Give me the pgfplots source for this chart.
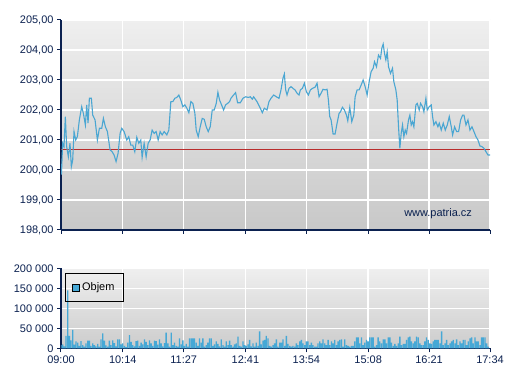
\documentclass[border=0pt]{standalone}
\usepackage{fontspec}
\setmainfont{Liberation Sans}
\usepackage{pgfplots}
\pgfplotsset{compat=1.18}
\definecolor{navy}{RGB}{11,33,80}
\definecolor{lineblue}{RGB}{74,166,210}
\definecolor{barblue}{RGB}{70,168,214}
\definecolor{refred}{RGB}{185,45,45}
\begin{document}
\begin{tikzpicture}
\path[use as bounding box] (0,0) rectangle (507bp,380bp);
\pgfplotsset{
 panel/.style={scale only axis, width=429bp, xmin=0, xmax=514,
  axis lines*=left, axis line style={-, navy, line width=1.2bp},
  tick style={navy, line width=1bp}, tick align=outside, major tick length=4bp,
  grid=major, grid style={white, line width=1.3bp},
  xtick={0,74,147,221,294,368,441,514},
  ticklabel style={font=\fontsize{11}{13}\selectfont, text=navy},
  /pgf/number format/assume math mode=true,
  anchor=south west}
}
\begin{axis}[panel, at={(61bp,150bp)}, height=210bp,
  ymin=198, ymax=205, ytick={198,199,200,201,202,203,204,205},
  yticklabels={{198,00},{199,00},{200,00},{201,00},{202,00},{203,00},{204,00},{205,00}},
  xticklabels={},
  axis background/.style={top color={rgb,255:red,239;green,239;blue,239}, bottom color={rgb,255:red,200;green,200;blue,200}}]
\addplot[refred, line width=0.8bp] coordinates {(0,200.7) (514,200.7)};
\addplot[lineblue, line width=1.1bp] coordinates {
(0,200.2)(0.5,199.85)(1,200.2)(2,200.89)(3.6,200.78)(5.2,201.78)(6.8,200.78)(8.8,200.44)(10.8,200.89)(12.4,200.11)(14,200.33)(15.6,201.28)(17.6,201.0)(19.6,201.11)(22,201.67)(24.8,202.11)(26.8,201.89)(29.2,201.5)(30.8,202.17)(32.4,201.56)(34,202.39)(36.4,202.39)(38,201.83)(40.8,201.67)(43.6,201.0)(46,201.39)(48.8,201.39)(50.8,201.72)(53.2,201.44)(55.6,201.28)(58.8,200.67)(61.2,200.61)(63.6,200.5)(66,200.28)(68.4,200.56)(70.8,201.22)(72.8,201.39)(75.6,201.28)(78.8,201.0)(81.2,201.11)(83.6,200.83)(86,200.83)(88.4,200.61)(90.8,201.09)(93.2,200.89)(95.6,201.0)(97.2,200.42)(99.6,200.89)(102,200.44)(104.4,200.89)(106.8,201.0)(109.2,201.33)(111.6,201.22)(114,201.28)(116.4,201.0)(118.8,201.28)(121.2,201.17)(123.6,201.28)(126.8,201.17)(129.2,201.33)(131.6,202.28)(134,202.28)(136.4,202.39)(138.8,202.42)(141.2,202.5)(143.6,202.33)(146,202.11)(148.4,202.17)(150.8,202.06)(153.2,201.91)(155.6,202.28)(158,202.22)(160.4,201.89)(162,201.33)(164.4,201.11)(166.8,201.44)(169.2,201.72)(171.6,201.69)(174,201.44)(176.4,201.28)(178.8,201.44)(181.2,202.0)(183.6,202.0)(186,202.22)(188,202.59)(190,202.33)(192.4,202.17)(194.8,202.0)(197.2,202.17)(199.6,202.22)(202,202.28)(203.6,202.39)(206.8,202.5)(209.2,202.58)(211.6,202.24)(214.8,202.24)(218,202.39)(221.2,202.44)(224.4,202.42)(226.8,202.44)(229.2,202.36)(230.8,202.44)(234.8,202.28)(238.8,202.06)(241.2,201.91)(243.6,202.06)(246.8,202.0)(249.2,202.28)(251.6,202.39)(254.8,202.5)(258,202.44)(261.2,202.39)(263.6,202.67)(266,203.06)(267.6,203.2)(269.2,202.67)(270.8,202.5)(273.2,202.72)(275.6,202.78)(278,202.72)(280.4,202.67)(282.8,202.56)(285.2,202.5)(286.8,202.67)(289.2,202.72)(291.6,202.89)(294,202.61)(296.4,202.5)(298.8,202.67)(301.2,202.72)(304.4,202.76)(306.8,202.89)(309.2,202.44)(311.6,202.56)(314,202.69)(316.4,202.67)(318.8,202.69)(320.4,202.33)(322,201.78)(323.6,201.67)(326,201.2)(328.4,201.2)(330.8,201.56)(333.2,201.89)(334.8,201.94)(337.2,202.09)(339.6,202.0)(342,201.83)(343.6,201.64)(346,202.09)(348.4,201.61)(350.8,201.83)(352.4,202.44)(354.8,202.67)(357.2,202.67)(359.6,202.83)(362,203.0)(364.4,202.78)(366.8,202.5)(369.2,202.94)(371.6,203.28)(374,203.39)(375.6,203.61)(378,203.44)(380.4,203.83)(382.8,203.72)(384.4,204.06)(386,204.2)(387.6,203.89)(389.2,203.67)(390.8,203.94)(392.4,203.44)(394.8,203.22)(397.2,203.39)(398.8,202.94)(401.2,202.67)(402.8,202.33)(404.4,201.44)(406,200.72)(407.6,201.22)(409.2,201.5)(410.8,201.11)(412.4,201.33)(414,201.22)(416.4,201.67)(418,201.83)(419.6,201.5)(421.2,201.61)(422.8,201.44)(425.2,202.17)(426.8,202.22)(429.2,202.0)(430.8,202.22)(433.2,202.11)(434.8,201.94)(437.2,202.39)(438.8,202.0)(441.2,202.11)(443.6,202.17)(445.2,201.78)(446.8,201.5)(449.2,201.61)(451.6,201.44)(453.2,201.56)(455.6,201.33)(458,201.56)(460.4,201.33)(462.8,201.5)(465.2,201.78)(467.6,201.44)(469.2,201.17)(471.6,201.44)(474,201.28)(476.4,201.28)(478.8,201.67)(481.2,201.83)(482.8,201.83)(485.2,201.5)(487.6,201.67)(490,201.33)(492.4,201.44)(494.8,201.28)(497.2,201.11)(499.6,201.0)(502,200.8)(504.4,200.78)(506.8,200.72)(509.2,200.61)(511.6,200.5)(514,200.5)};
\node[text=navy, font=\fontsize{11}{13}\selectfont] at (rel axis cs:0.879,0.08) {www.patria.cz};
\end{axis}
\begin{axis}[panel, at={(61bp,31.7bp)}, height=80bp,
  ymin=0, ymax=200, ytick={0,50,100,150,200},
  yticklabels={0,50 000,100 000,150 000,200 000},
  xticklabels={09:00,10:14,11:27,12:41,13:54,15:08,16:21,17:34},
  axis background/.style={top color={rgb,255:red,239;green,239;blue,239}, bottom color={rgb,255:red,204;green,204;blue,204}},
  legend style={at={(0.0093,0.9375)}, anchor=north west, draw=black, fill=none, line width=0.8bp,
    font=\fontsize{11}{13}\selectfont, inner xsep=7bp, inner ysep=7bp},
  legend image code/.code={\draw[fill=barblue, draw=black, line width=0.8bp] (0bp,-3.5bp) rectangle (7bp,3.5bp);}]
\addplot[ybar, bar width=1.6, draw=none, fill=barblue] coordinates {
(0,8)(2,10)(4,5)(6,31)(8,145)(10,31)(12,20)(14,46)(16,9)(18,17)(20,14)(22,6)(24,18)(26,8)(28,4)(30,12)(32,19)(34,19)(36,6)(38,12)(40,8)(42,5)(44,11)(46,4)(48,22)(50,37)(52,19)(54,7)(56,4)(58,19)(60,8)(62,20)(64,13)(66,5)(68,22)(70,22)(72,10)(74,12)(76,6)(78,3)(80,14)(82,33)(84,16)(86,8)(88,5)(90,18)(92,19)(94,6)(96,14)(98,10)(100,22)(102,16)(104,8)(106,20)(108,12)(110,6)(112,19)(114,18)(116,9)(118,22)(120,12)(122,5)(124,13)(126,39)(128,12)
(130,4)(132,39)(134,8)(136,14)(138,6)(140,4)(142,25)(144,10)(146,20)(148,6)(150,11)(152,4)(154,25)(156,25)(158,25)(160,25)(162,14)(164,6)(166,25)(168,14)(170,25)(172,4)(174,8)(176,14)(178,25)(180,25)(182,6)(184,10)(186,17)(188,11)(190,5)(192,22)(194,8)(196,4)(198,17)(200,8)(202,19)(204,8)(206,4)(208,10)(210,12)(212,29)(214,6)(216,4)(218,17)(220,8)(222,6)(224,10)(226,21)(228,5)(230,12)(232,4)(234,14)(236,6)(238,42)(240,10)(242,19)(244,21)(246,31)(248,25)(250,6)(252,4)(254,8)(256,12)(258,22)
(260,4)(262,14)(264,14)(266,22)(268,6)(270,31)(272,11)(274,6)(276,4)(278,6)(280,4)(282,12)(284,8)(286,17)(288,21)(290,12)(292,8)(294,17)(296,17)(298,8)(300,14)(302,8)(304,4)(306,4)(308,12)(310,17)(312,12)(314,22)(316,12)(318,8)(320,21)(322,8)(324,17)(326,12)(328,21)(330,8)(332,17)(334,21)(336,22)(338,4)(340,22)(342,8)(344,6)(346,4)(348,6)(350,6)(352,17)(354,27)(356,27)(358,12)(360,27)(362,8)(364,14)(366,21)(368,17)(370,27)(372,27)(374,27)(376,4)(378,8)(380,27)(382,17)(384,12)(386,22)
(388,22)(390,12)(392,27)(394,27)(396,14)(398,6)(400,11)(402,6)(404,12)(406,29)(408,8)(410,11)(412,11)(414,21)(416,27)(418,29)(420,17)(422,12)(424,17)(426,29)(428,27)(430,12)(432,8)(434,8)(436,17)(438,27)(440,21)(442,12)(444,11)(446,17)(448,21)(450,21)(452,21)(454,12)(456,42)(458,8)(460,12)(462,21)(464,8)(466,12)(468,17)(470,21)(472,12)(474,22)(476,8)(478,17)(480,12)(482,21)(484,21)(486,8)(488,17)(490,25)(492,27)(494,12)(496,27)(498,17)(500,17)(502,8)(504,27)(506,27)(508,27)(510,12)(512,4)};
\addlegendentry{Objem}
\end{axis}
\end{tikzpicture}
\end{document}
